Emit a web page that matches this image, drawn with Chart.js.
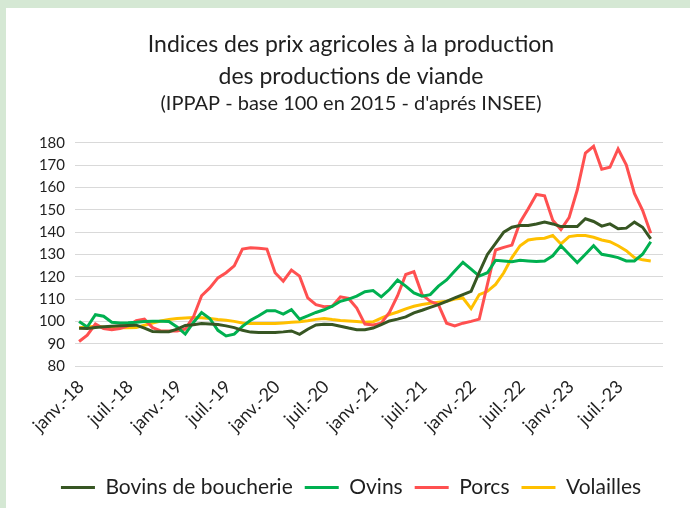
<!DOCTYPE html>
<html lang="fr">
<head>
<meta charset="utf-8">
<title>Indices des prix agricoles à la production - viande</title>
<script src="https://cdn.jsdelivr.net/npm/chart.js@4/dist/chart.umd.min.js"></script>
<style>
  html, body { margin: 0; padding: 0; }
  body { width: 690px; height: 508px; background: #D5E8D4; position: relative; overflow: hidden; }
  #panel { position: absolute; left: 6px; top: 8px; width: 684px; height: 500px; background: #FFFFFF; }
</style>
</head>
<body>
<div id="panel"><canvas id="ippap"></canvas></div>
<script>
// Mois (janv. 2018 -> déc. 2023), seuls janvier et juillet sont affichés
const moisLabels = [
  'janv.-18', 'févr.-18', 'mars-18', 'avr.-18', 'mai-18', 'juin-18', 'juil.-18', 'août-18', 'sept.-18', 'oct.-18', 'nov.-18', 'déc.-18',
  'janv.-19', 'févr.-19', 'mars-19', 'avr.-19', 'mai-19', 'juin-19', 'juil.-19', 'août-19', 'sept.-19', 'oct.-19', 'nov.-19', 'déc.-19',
  'janv.-20', 'févr.-20', 'mars-20', 'avr.-20', 'mai-20', 'juin-20', 'juil.-20', 'août-20', 'sept.-20', 'oct.-20', 'nov.-20', 'déc.-20',
  'janv.-21', 'févr.-21', 'mars-21', 'avr.-21', 'mai-21', 'juin-21', 'juil.-21', 'août-21', 'sept.-21', 'oct.-21', 'nov.-21', 'déc.-21',
  'janv.-22', 'févr.-22', 'mars-22', 'avr.-22', 'mai-22', 'juin-22', 'juil.-22', 'août-22', 'sept.-22', 'oct.-22', 'nov.-22', 'déc.-22',
  'janv.-23', 'févr.-23', 'mars-23', 'avr.-23', 'mai-23', 'juin-23', 'juil.-23', 'août-23', 'sept.-23', 'oct.-23', 'nov.-23', 'déc.-23',
];

// IPPAP base 100 en 2015, janv. 2018 -> nov. 2023
const bovins = [
  96.9, 96.8, 97.3, 97.6, 97.8, 98.0, 98.2, 98.3, 97.0, 95.5, 95.3, 95.4,
  96.5, 98.2, 98.5, 99.0, 98.8, 98.6, 98.0, 97.2, 96.0, 95.2, 95.0, 95.0,
  95.0, 95.3, 95.7, 94.2, 96.5, 98.4, 98.7, 98.6, 97.8, 97.0, 96.3, 96.3,
  97.0, 98.5, 100.2, 101.0, 102.0, 103.8, 105.0, 106.3, 107.5, 109.0, 110.5, 112.0,
  113.5, 122.0, 130.0, 135.0, 140.0, 142.2, 143.0, 143.0, 143.7, 144.5, 143.7, 142.5,
  142.5, 142.5, 146.0, 144.8, 142.7, 143.7, 141.5, 141.8, 144.5, 142.2, 137.0,
];
const ovins = [
  100.0, 97.5, 103.0, 102.3, 99.6, 99.3, 99.4, 99.6, 99.9, 100.1, 100.1, 100.0,
  97.5, 94.3, 99.5, 104.0, 101.3, 96.0, 93.5, 94.3, 97.8, 100.5, 102.5, 104.8,
  104.8, 103.3, 105.3, 101.0, 102.5, 104.0, 105.2, 106.8, 109.0, 110.0, 111.3, 113.3,
  113.8, 111.0, 114.3, 118.5, 115.8, 112.8, 111.3, 112.0, 115.8, 118.6, 122.6, 126.5,
  123.4, 120.3, 121.8, 127.4, 127.1, 126.7, 127.4, 127.1, 126.8, 127.1, 129.4, 133.9,
  130.1, 126.4, 130.1, 133.9, 130.1, 129.4, 128.6, 127.1, 127.1, 130.1, 135.7,
];
const porcs = [
  91.0, 93.8, 98.8, 96.8, 96.3, 96.8, 98.0, 100.3, 101.0, 97.2, 95.7, 95.7,
  95.7, 96.5, 102.0, 111.5, 115.0, 119.5, 121.8, 124.9, 132.4, 133.0, 132.8, 132.4,
  121.8, 118.0, 123.0, 120.3, 110.5, 107.5, 106.6, 106.8, 111.0, 110.3, 106.0, 98.8,
  98.4, 99.2, 104.0, 111.5, 121.0, 122.3, 112.0, 109.0, 107.5, 99.2, 98.0, 99.2,
  100.0, 101.0, 116.6, 132.0, 133.2, 134.2, 144.5, 150.5, 156.9, 156.3, 145.3, 141.2,
  146.5, 158.9, 175.5, 178.5, 168.2, 169.1, 177.3, 170.2, 157.4, 149.8, 139.5,
];
const volailles = [
  97.2, 97.5, 97.8, 97.5, 97.3, 97.2, 97.2, 97.3, 98.3, 99.3, 100.2, 100.8,
  101.3, 101.5, 101.7, 101.6, 101.3, 100.8, 100.5, 100.0, 99.3, 99.0, 99.0, 99.0,
  99.0, 99.3, 99.6, 99.8, 100.3, 100.9, 101.3, 100.8, 100.4, 100.2, 100.0, 99.6,
  99.8, 101.5, 103.0, 104.2, 105.6, 106.8, 107.6, 108.1, 108.6, 109.0, 110.0, 110.5,
  105.7, 112.0, 113.5, 116.6, 121.8, 128.6, 133.9, 136.5, 137.0, 137.3, 138.5, 134.7,
  138.0, 138.5, 138.5, 137.7, 136.5, 135.7, 133.9, 131.7, 128.6, 127.6, 127.1,
];

const FONT = "Lato, 'Open Sans', sans-serif";
const TEXT = '#1F1F1F';

function serie(label, data, color) {
  return {
    label,
    data,
    borderColor: color,
    backgroundColor: color,
    borderWidth: 3,
    pointRadius: 0,
    pointHoverRadius: 0,
    tension: 0,
    fill: false,
  };
}

const ctx = document.getElementById('ippap').getContext('2d');
new Chart(ctx, {
  type: 'line',
  data: {
    labels: moisLabels,
    datasets: [
      serie('Bovins de boucherie', bovins, '#375623'),
      serie('Ovins', ovins, '#00B050'),
      serie('Porcs', porcs, '#FF5050'),
      serie('Volailles', volailles, '#FFC000'),
    ],
  },
  options: {
    responsive: true,
    maintainAspectRatio: false,
    animation: false,
    layout: { padding: { left: 33, right: 27, top: 0, bottom: 0 } },
    plugins: {
      title: {
        display: true,
        text: ['Indices des prix agricoles à la production', 'des productions de viande'],
        color: TEXT,
        font: { family: FONT, size: 23, weight: 'normal', lineHeight: 1.39 },
        padding: { top: 21, bottom: 0 },
      },
      subtitle: {
        display: true,
        text: "(IPPAP - base 100 en 2015 - d'aprés INSEE)",
        color: TEXT,
        font: { family: FONT, size: 20, weight: 'normal', lineHeight: 1.1 },
        padding: { top: 0, bottom: 28 },
      },
      legend: {
        position: 'bottom',
        labels: {
          usePointStyle: true,
          pointStyle: 'line',
          pointStyleWidth: 34,
          color: TEXT,
          font: { family: FONT, size: 21 },
          padding: 12,
        },
      },
      tooltip: { enabled: false },
    },
    scales: {
      x: {
        offset: true,
        grid: { display: false },
        border: { display: false },
        ticks: {
          autoSkip: false,
          maxRotation: 45,
          minRotation: 45,
          color: TEXT,
          font: { family: FONT, size: 18 },
          padding: 2,
          labelOffset: 2,
          callback: (v, i) => (i % 6 === 0 ? moisLabels[i] : ''),
        },
        afterFit: (scale) => { scale.height = 99; },
      },
      y: {
        min: 80,
        max: 180,
        border: { display: false },
        grid: { color: '#D9D9D9', drawTicks: false },
        ticks: {
          stepSize: 10,
          color: TEXT,
          font: { family: FONT, size: 15 },
          padding: 10,
        },
        afterFit: (scale) => { scale.width = 36; },
      },
    },
  },
});
</script>
</body>
</html>
